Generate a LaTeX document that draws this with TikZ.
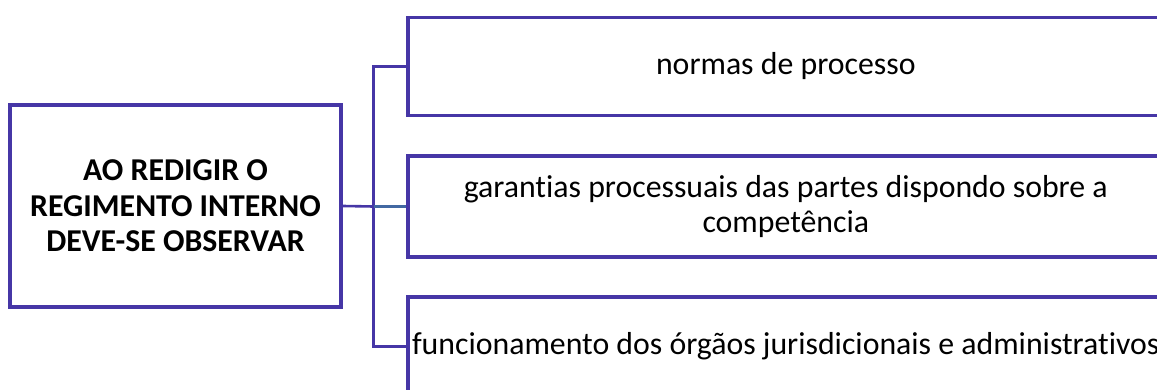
\documentclass[tikz,border=0pt]{standalone}
\usepackage{fontspec}
\setmainfont{Carlito}[Ligatures={NoCommon}]
\definecolor{boxline}{RGB}{70,54,166}
\definecolor{midline}{RGB}{66,104,162}
\begin{document}
\begin{tikzpicture}[x=1pt,y=-1pt,
  boxstyle/.style={draw=boxline, line width=3.6pt, fill=white, inner sep=0pt, align=center,
    font=\fontsize{31.8}{35}\selectfont},
  conn/.style={draw=boxline, line width=2.6pt},
  midconn/.style={draw=midline, line width=2.6pt}]
\useasboundingbox (0,0) rectangle (1157,390);
\clip (0,0) rectangle (1157,390);
\node[boxstyle, minimum width=331pt, minimum height=202pt, font=\fontsize{31.8}{35.5}\selectfont\bfseries]
  (root) at (175.5,206) {AO REDIGIR O\\REGIMENTO INTERNO\\DEVE-SE OBSERVAR};
\node[boxstyle, anchor=west, minimum width=756pt, minimum height=98pt]
  (b1) at (406,66.5) {normas de processo};
\node[boxstyle, anchor=west, minimum width=756pt, minimum height=101pt]
  (b2) at (406,206.5) {garantias processuais das partes dispondo sobre a\\competência};
\node[boxstyle, anchor=west, minimum width=756pt, minimum height=99pt]
  (b3) at (406,346.5) {funcionamento dos órgãos jurisdicionais e administrativos};
\coordinate (jx) at (373.5,206.5);
\draw[conn] (root.east) -- (jx);
\draw[conn] (b1.west) -| (jx) |- (b3.west);
\draw[midconn] (jx) -- (b2.west);
\end{tikzpicture}
\end{document}
